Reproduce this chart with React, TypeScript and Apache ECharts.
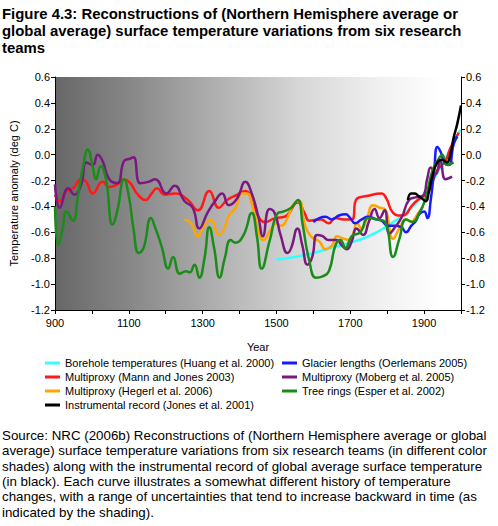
import React, { useEffect, useRef } from "react";
import * as echarts from "echarts";

// ---- Data (year, temperature anomaly in deg C) ----
const boreholeYears = [1500, 1550, 1600, 1650, 1700, 1750, 1800, 1850, 1900, 1950, 1998];
const boreholeVals = [-0.81, -0.79, -0.76, -0.72, -0.68, -0.63, -0.55, -0.45, -0.30, -0.07, 0.19];

const mannYears = [900, 913, 931, 949, 971, 985, 1002, 1029, 1047, 1069, 1087, 1104, 1122, 1145, 1162, 1176, 1198, 1224, 1260, 1287, 1318, 1344, 1366, 1393, 1416, 1438, 1456, 1469, 1496, 1522, 1558, 1576, 1589, 1620, 1642, 1660, 1682, 1704, 1718, 1745, 1784, 1798, 1816, 1838, 1851, 1865, 1887, 1909, 1936, 1958, 1971, 1994];
const mannVals = [-0.31, -0.36, -0.28, -0.26, -0.19, -0.21, -0.30, -0.21, -0.25, -0.23, -0.19, -0.22, -0.30, -0.35, -0.30, -0.26, -0.31, -0.30, -0.35, -0.43, -0.28, -0.41, -0.35, -0.31, -0.28, -0.40, -0.50, -0.52, -0.49, -0.48, -0.37, -0.45, -0.51, -0.50, -0.53, -0.49, -0.50, -0.50, -0.34, -0.32, -0.30, -0.34, -0.45, -0.47, -0.46, -0.40, -0.34, -0.30, -0.12, -0.05, 0.05, 0.17];

const hegerlYears = [1251, 1269, 1287, 1304, 1322, 1344, 1357, 1371, 1389, 1407, 1420, 1438, 1454, 1464, 1482, 1500, 1513, 1531, 1549, 1562, 1576, 1593, 1616, 1633, 1651, 1664, 1682, 1700, 1709, 1718, 1731, 1745, 1762, 1780, 1794, 1816, 1833, 1851, 1865, 1882, 1898];
const hegerlVals = [-0.50, -0.53, -0.63, -0.55, -0.50, -0.62, -0.58, -0.47, -0.41, -0.30, -0.30, -0.43, -0.62, -0.66, -0.59, -0.53, -0.55, -0.48, -0.37, -0.36, -0.53, -0.63, -0.67, -0.73, -0.70, -0.63, -0.65, -0.66, -0.60, -0.53, -0.57, -0.49, -0.39, -0.41, -0.42, -0.65, -0.57, -0.50, -0.52, -0.46, -0.40];

const glacierYears = [1600, 1616, 1633, 1650, 1669, 1687, 1700, 1713, 1731, 1749, 1770, 1785, 1802, 1820, 1838, 1851, 1865, 1878, 1887, 1900, 1909, 1918, 1927, 1936, 1945, 1955, 1967, 1980, 1990];
const glacierVals = [-0.52, -0.49, -0.48, -0.50, -0.47, -0.46, -0.49, -0.53, -0.50, -0.48, -0.50, -0.51, -0.55, -0.55, -0.56, -0.60, -0.55, -0.51, -0.46, -0.44, -0.49, -0.35, -0.13, 0.06, 0.02, -0.06, -0.08, 0.08, 0.14];

const mobergYears = [900, 913, 936, 953, 971, 985, 1002, 1016, 1029, 1047, 1069, 1087, 1104, 1113, 1131, 1153, 1171, 1202, 1224, 1251, 1273, 1291, 1313, 1331, 1353, 1371, 1393, 1416, 1433, 1451, 1463, 1481, 1495, 1512, 1530, 1540, 1557, 1570, 1584, 1597, 1610, 1625, 1641, 1664, 1677, 1690, 1704, 1717, 1735, 1750, 1766, 1779, 1793, 1806, 1824, 1840, 1859, 1877, 1896, 1909, 1918, 1931, 1944, 1958, 1976];
const mobergVals = [-0.23, -0.41, -0.26, -0.31, -0.23, -0.06, -0.08, 0.0, -0.05, -0.19, -0.22, -0.05, -0.03, -0.02, -0.22, -0.21, -0.19, -0.30, -0.24, -0.36, -0.41, -0.57, -0.45, -0.37, -0.30, -0.39, -0.34, -0.21, -0.30, -0.48, -0.63, -0.42, -0.45, -0.63, -0.76, -0.72, -0.57, -0.70, -0.85, -0.79, -0.62, -0.63, -0.66, -0.66, -0.70, -0.73, -0.67, -0.57, -0.62, -0.52, -0.42, -0.49, -0.43, -0.61, -0.55, -0.48, -0.35, -0.33, -0.32, -0.18, -0.10, -0.15, -0.05, -0.19, -0.17];

const esperYears = [900, 909, 920, 931, 949, 962, 976, 989, 1002, 1011, 1024, 1038, 1056, 1069, 1087, 1100, 1113, 1127, 1140, 1160, 1171, 1189, 1207, 1220, 1238, 1255, 1265, 1278, 1291, 1305, 1318, 1331, 1346, 1360, 1376, 1389, 1411, 1433, 1447, 1460, 1482, 1504, 1518, 1540, 1558, 1571, 1589, 1607, 1625, 1642, 1660, 1673, 1687, 1704, 1727, 1749, 1771, 1794, 1816, 1833, 1851, 1869, 1887, 1904, 1922, 1940, 1949, 1962, 1980];
const esperVals = [-0.40, -0.70, -0.58, -0.44, -0.51, -0.32, -0.09, 0.04, -0.09, -0.19, -0.09, -0.19, -0.54, -0.43, -0.19, -0.32, -0.58, -0.76, -0.72, -0.49, -0.56, -0.71, -0.88, -0.79, -0.92, -0.90, -0.91, -0.85, -0.95, -0.80, -0.56, -0.72, -0.95, -0.80, -0.66, -0.68, -0.62, -0.45, -0.63, -0.88, -0.66, -0.45, -0.44, -0.41, -0.35, -0.54, -0.82, -0.95, -0.94, -0.90, -0.70, -0.66, -0.72, -0.63, -0.60, -0.49, -0.50, -0.52, -0.79, -0.65, -0.50, -0.52, -0.45, -0.34, -0.13, -0.03, 0.0, -0.08, -0.06];

const instrYears = [1856, 1865, 1875, 1885, 1895, 1905, 1912, 1922, 1936, 1949, 1962, 1971, 1980, 1990, 2000];
const instrVals = [-0.35, -0.30, -0.30, -0.32, -0.34, -0.36, -0.30, -0.17, -0.06, -0.04, -0.06, 0.0, 0.13, 0.24, 0.38];

const seriesNames = [
  "Borehole temperatures (Huang et al. 2000)",
  "Glacier lengths (Oerlemans 2005)",
  "Multiproxy (Mann and Jones 2003)",
  "Multiproxy (Moberg et al. 2005)",
  "Multiproxy (Hegerl et al. 2006)",
  "Tree rings (Esper et al. 2002)",
  "Instrumental record (Jones et al. 2001)",
];

const titleText =
  "Figure 4.3: Reconstructions of (Northern Hemisphere average or\nglobal average) surface temperature variations from six research\nteams";

const captionText =
  "Source: NRC (2006b) Reconstructions of (Northern Hemisphere average or global\naverage) surface temperature variations from six research teams (in different color\nshades) along with the instrumental record of global average surface temperature\n(in black). Each curve illustrates a somewhat different history of temperature\nchanges, with a range of uncertainties that tend to increase backward in time (as\nindicated by the shading).";

const zip = (xs: number[], ys: number[]) => xs.map((x, i) => [x, ys[i]]);

export default function App() {
  const ref = useRef<HTMLDivElement>(null);
  useEffect(() => {
    if (!ref.current) return;
    const chart = echarts.init(ref.current, undefined, { renderer: "svg" });
    const font = "Liberation Sans, Arial, sans-serif";
    const mk = (name: string, color: string, xs: number[], ys: number[], width = 2.5) => ({
      name,
      type: "line",
      data: zip(xs, ys),
      smooth: 0.5,
      showSymbol: false,
      symbol: "none",
      lineStyle: { color, width },
      itemStyle: { color },
      z: 3,
    });
    const legendCommon = {
      orient: "vertical",
      icon: "rect",
      itemWidth: 15,
      itemHeight: 3,
      itemGap: 0,
      padding: 0,
      selectedMode: false,
      textStyle: { fontSize: 11, fontFamily: font, color: "#000", lineHeight: 14 },
    };
    const yLabel = {
      fontSize: 11,
      fontFamily: font,
      color: "#000",
      margin: 5,
      formatter: (v: number) => (Math.round(v * 10) / 10).toFixed(1),
    };
    chart.setOption({
      animation: false,
      backgroundColor: "#fff",
      title: [
        {
          text: titleText,
          left: 2,
          top: 5,
          padding: 0,
          textStyle: { fontSize: 14.9, fontWeight: "bold", fontFamily: font, color: "#000", lineHeight: 17 },
        },
        {
          text: captionText,
          left: 2,
          top: 428,
          padding: 0,
          textStyle: { fontSize: 13.33, fontWeight: "normal", fontFamily: font, color: "#000", lineHeight: 15.3 },
        },
      ],
      legend: [
        { ...legendCommon, left: 45, top: 356, data: [seriesNames[0], seriesNames[2], seriesNames[4], seriesNames[6]] },
        { ...legendCommon, left: 282, top: 356, data: [seriesNames[1], seriesNames[3], seriesNames[5]] },
      ],
      grid: {
        left: 48,
        right: 37,
        top: 77,
        bottom: 216,
        show: true,
        borderWidth: 0,
        backgroundColor: {
          type: "linear",
          x: 0,
          y: 0,
          x2: 1,
          y2: 0,
          colorStops: [
            { offset: 0, color: "#676767" },
            { offset: 0.2, color: "#8a8a8a" },
            { offset: 0.4, color: "#b0b0b0" },
            { offset: 0.6, color: "#d6d6d6" },
            { offset: 0.8, color: "#f0f0f0" },
            { offset: 0.95, color: "#ffffff" },
            { offset: 1, color: "#ffffff" },
          ],
        },
      },
      xAxis: {
        type: "value",
        min: 900,
        max: 2000,
        interval: 100,
        name: "Year",
        nameLocation: "middle",
        nameGap: 31,
        nameTextStyle: { fontSize: 11, fontFamily: font, color: "#000" },
        axisLine: { onZero: false, lineStyle: { color: "#000", width: 1 } },
        axisTick: { lineStyle: { color: "#000" }, length: 4 },
        splitLine: { show: false },
        axisLabel: {
          fontSize: 11,
          fontFamily: font,
          color: "#000",
          margin: 7,
          formatter: (v: number) => ((v - 900) % 200 === 0 && v < 2000 ? String(v) : ""),
        },
      },
      yAxis: [
        {
          type: "value",
          min: -1.2,
          max: 0.6,
          interval: 0.2,
          position: "left",
          name: "Temperature anomaly (deg C)",
          nameLocation: "middle",
          nameGap: 36,
          nameTextStyle: { fontSize: 11, fontFamily: font, color: "#000" },
          axisLine: { show: true, onZero: false, lineStyle: { color: "#000", width: 1 } },
          axisTick: { show: true, lineStyle: { color: "#000" }, length: 4 },
          splitLine: { show: false },
          axisLabel: yLabel,
        },
        {
          type: "value",
          min: -1.2,
          max: 0.6,
          interval: 0.2,
          position: "right",
          axisLine: { show: true, onZero: false, lineStyle: { color: "#000", width: 1 } },
          axisTick: { show: true, lineStyle: { color: "#000" }, length: 4 },
          splitLine: { show: false },
          axisLabel: yLabel,
        },
      ],
      series: [
        mk(seriesNames[0], "#33ffff", boreholeYears, boreholeVals),
        mk(seriesNames[2], "#ff1a1a", mannYears, mannVals),
        mk(seriesNames[4], "#ffa500", hegerlYears, hegerlVals),
        mk(seriesNames[1], "#1a1aff", glacierYears, glacierVals),
        mk(seriesNames[3], "#7a1a80", mobergYears, mobergVals),
        mk(seriesNames[5], "#1a8c1a", esperYears, esperVals),
        mk(seriesNames[6], "#000000", instrYears, instrVals),
      ],
    });
    return () => chart.dispose();
  }, []);
  return (
    <div
      ref={ref}
      style={{ position: "absolute", left: 0, top: 0, width: 498, height: 526 }}
    />
  );
}
